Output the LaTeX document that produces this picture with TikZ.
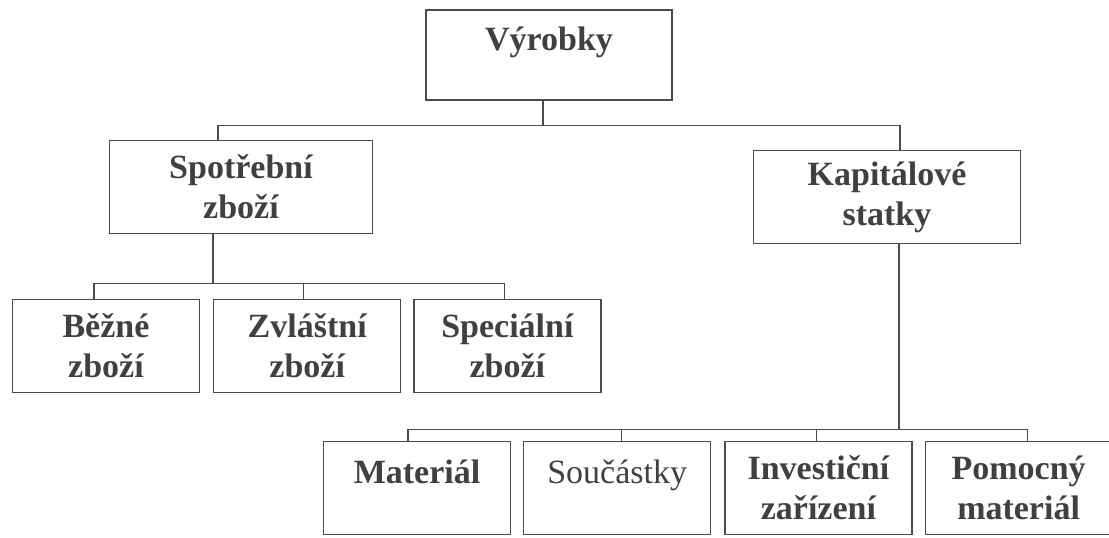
\documentclass[tikz,border=0pt]{standalone}
\usepackage{fontspec}
\setmainfont{Liberation Serif}
\usetikzlibrary{positioning}
\begin{document}
\begin{tikzpicture}[x=1pt,y=-1pt]
\tikzstyle{box} = [rectangle, draw=black!70, line width=1.2pt, text=black!75, align=center, inner sep=0pt, minimum height=93pt, font=\fontsize{34}{40}\selectfont\bfseries]
\tikzstyle{small} = [box, minimum width=187pt]
\tikzstyle{conn} = [draw=black!70, line width=1.2pt]
%
\useasboundingbox (0,0) rectangle (1109,538);
%
\node (vyrobky)    [box, minimum width=246pt, minimum height=90pt] at (549,55) {Výrobky\\[-20pt]\strut};
\node (spotrebni)  [box, minimum width=263pt] at (241,187) {Spotřební\\zboží};
\node (kapitalove) [box, minimum width=267pt] at (887,197) {Kapitálové\\statky};
\node (bezne)      [small] at (106,346) {Běžné\\zboží};
\node (zvlastni)   [small, right=13pt of bezne] {Zvláštní\\zboží};
\node (specialni)  [small, right=12pt of zvlastni] {Speciální\\zboží};
\node (material)   [small] at (417,488) {Materiál\\[-20pt]\strut};
\node (soucastky)  [small, right=12pt of material, font=\fontsize{34}{40}\selectfont\mdseries] {Součástky\\[-20pt]\strut};
\node (investicni) [small, right=13pt of soucastky] {Investiční\\zařízení};
\node (pomocny)    [small, right=12pt of investicni] {Pomocný\\materiál};
%
\draw [conn] ([xshift=-6pt]vyrobky.south) -- ++(0,25) coordinate (top);
\draw [conn] ([xshift=-23pt]spotrebni.north) |- (top) -| ([xshift=13pt]kapitalove.north);
%
\draw [conn] ([xshift=-28pt]spotrebni.south) -- ++(0,49) coordinate (left);
\draw [conn] ([xshift=-12pt]bezne.north) |- (left) -| ([xshift=-3pt]specialni.north);
\draw [conn] ([xshift=-4pt]zvlastni.north) |- (left);
%
\draw [conn] ([xshift=12pt]kapitalove.south) -- ++(0,185) coordinate (right);
\draw [conn] ([xshift=-9pt]material.north) |- (right) -| ([xshift=9pt]pomocny.north);
\draw [conn] ([xshift=4pt]soucastky.north) |- (right);
\draw [conn] ([xshift=-2pt]investicni.north) |- (right);
\end{tikzpicture}
\end{document}
